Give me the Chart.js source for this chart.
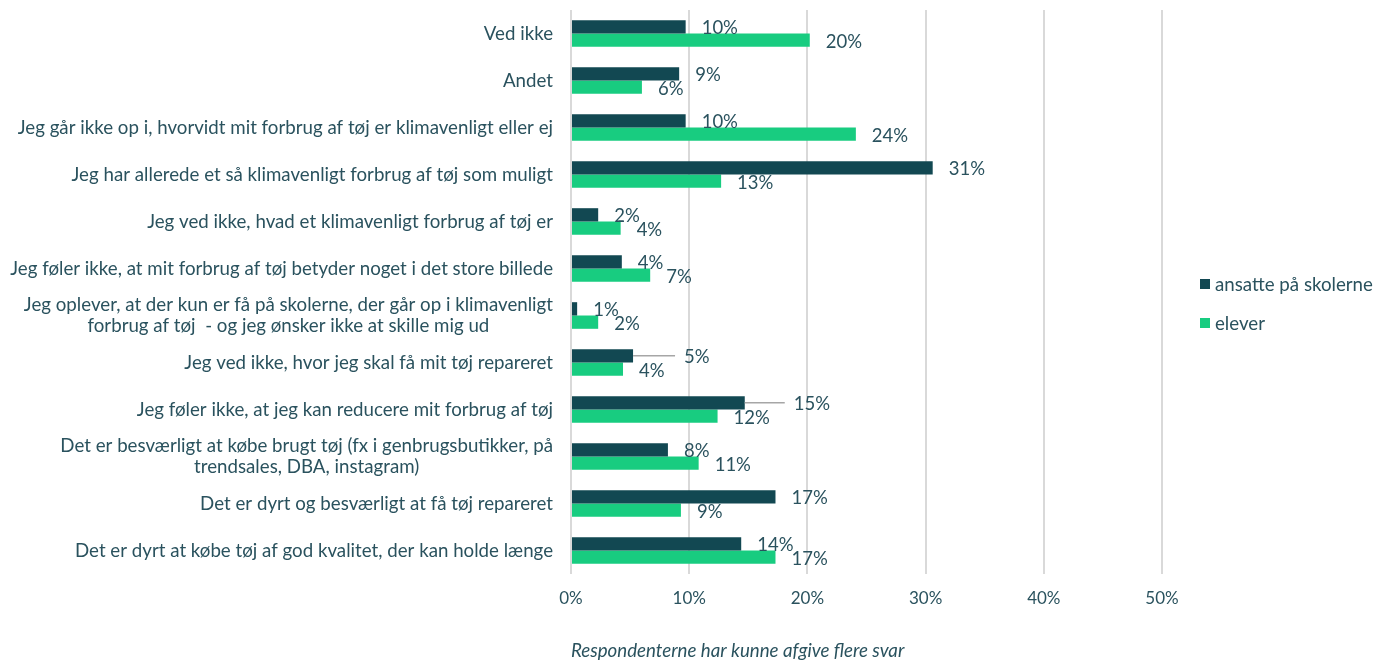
<!DOCTYPE html>
<html lang="da">
<head>
<meta charset="utf-8">
<title>Klimavenligt forbrug af tøj</title>
<script src="https://cdn.jsdelivr.net/npm/chart.js@4.4.1/dist/chart.umd.min.js"></script>
<style>
  html, body { margin: 0; padding: 0; background: #ffffff; }
  #wrap { width: 1375px; height: 660px; position: relative; }
</style>
</head>
<body>
<div id="wrap"><canvas id="chart"></canvas></div>
<script>
// Kategorier (top til bund)
const categories = [
    'Ved ikke',
    'Andet',
    'Jeg går ikke op i, hvorvidt mit forbrug af tøj er klimavenligt eller ej',
    'Jeg har allerede et så klimavenligt forbrug af tøj som muligt',
    'Jeg ved ikke, hvad et klimavenligt forbrug af tøj er',
    'Jeg føler ikke, at mit forbrug af tøj betyder noget i det store billede',
    ['Jeg oplever, at der kun er få på skolerne, der går op i klimavenligt', 'forbrug af tøj  - og jeg ønsker ikke at skille mig ud'],
    'Jeg ved ikke, hvor jeg skal få mit tøj repareret',
    'Jeg føler ikke, at jeg kan reducere mit forbrug af tøj',
    ['Det er besværligt at købe brugt tøj (fx i genbrugsbutikker, på', 'trendsales, DBA, instagram)'],
    'Det er dyrt og besværligt at få tøj repareret',
    'Det er dyrt at købe tøj af god kvalitet, der kan holde længe'
];

const seriesNames = ['ansatte på skolerne', 'elever'];

// Andele i procent
const ansatte = [9.7, 9.15, 9.7, 30.6, 2.3, 4.3, 0.52, 5.25, 14.7, 8.2, 17.3, 14.4];
const elever = [20.2, 6.0, 24.1, 12.7, 4.2, 6.7, 2.3, 4.4, 12.4, 10.8, 9.3, 17.3];

const xTicks = [0, 10, 20, 30, 40, 50];
const axisTitle = 'Respondenterne har kunne afgive flere svar';

const TEXT = '#2a525e';
const DARK = '#124852';
const GREEN = '#18cc80';
const FONT = 'Lato, "Noto Sans", sans-serif';

// Etiketter med streg ud til teksten (serie 0, indeks 7 og 8)
const leaderLines = { '0-7': 42, '0-8': 40 };

const categoryLabels = {
    id: 'categoryLabels',
    afterDraw(chart) {
        const ctx = chart.ctx;
        const yScale = chart.scales.y;
        const lh = 21;
        ctx.save();
        ctx.font = '18.7px ' + FONT;
        ctx.fillStyle = TEXT;
        ctx.textAlign = 'center';
        ctx.textBaseline = 'middle';
        categories.forEach((cat, i) => {
            const lines = Array.isArray(cat) ? cat : [cat];
            const maxW = Math.max(...lines.map(l => ctx.measureText(l).width));
            const cx = yScale.right - 18 - maxW / 2;
            const yc = yScale.getPixelForTick(i);
            lines.forEach((l, j) => {
                ctx.fillText(l, cx, yc + (j - (lines.length - 1) / 2) * lh);
            });
        });
        ctx.restore();
    }
};

const valueLabels = {
    id: 'valueLabels',
    afterDatasetsDraw(chart) {
        const ctx = chart.ctx;
        ctx.save();
        ctx.font = '18.5px ' + FONT;
        ctx.fillStyle = TEXT;
        ctx.textAlign = 'left';
        ctx.textBaseline = 'middle';
        chart.data.datasets.forEach((ds, di) => {
            const meta = chart.getDatasetMeta(di);
            meta.data.forEach((bar, i) => {
                const key = di + '-' + i;
                let x = bar.x + 16;
                const y = bar.y + 1.5;
                if (leaderLines[key]) {
                    ctx.save();
                    ctx.strokeStyle = '#a6a6a6';
                    ctx.lineWidth = 1.5;
                    ctx.beginPath();
                    ctx.moveTo(bar.x, bar.y);
                    ctx.lineTo(bar.x + leaderLines[key], bar.y);
                    ctx.stroke();
                    ctx.restore();
                    x = bar.x + leaderLines[key] + 9;
                }
                ctx.fillText(Math.round(ds.data[i]) + '%', x, y);
            });
        });
        ctx.restore();
    }
};

const sideLegend = {
    id: 'sideLegend',
    afterDraw(chart) {
        const ctx = chart.ctx;
        const area = chart.chartArea;
        const x = area.right + 38;
        const mid = (area.top + area.bottom) / 2;
        const rows = [mid - 8, mid + 31];
        ctx.save();
        ctx.font = '18.7px ' + FONT;
        ctx.textBaseline = 'middle';
        ctx.textAlign = 'left';
        chart.data.datasets.forEach((ds, i) => {
            ctx.fillStyle = ds.backgroundColor;
            ctx.fillRect(x, rows[i] - 5, 10, 10);
            ctx.fillStyle = TEXT;
            ctx.fillText(ds.label, x + 15, rows[i] + 1);
        });
        ctx.restore();
    }
};

const ctx = document.getElementById('chart').getContext('2d');
new Chart(ctx, {
    type: 'bar',
    data: {
        labels: categories,
        datasets: [
            { label: seriesNames[0], data: ansatte, backgroundColor: DARK },
            { label: seriesNames[1], data: elever, backgroundColor: GREEN }
        ]
    },
    options: {
        indexAxis: 'y',
        responsive: true,
        maintainAspectRatio: false,
        animation: false,
        layout: { padding: { top: 10, right: 213, bottom: 0, left: 0 } },
        datasets: {
            bar: { categoryPercentage: 0.566, barPercentage: 1 }
        },
        plugins: {
            legend: { display: false },
            tooltip: { enabled: false }
        },
        scales: {
            x: {
                min: xTicks[0],
                max: xTicks[xTicks.length - 1],
                ticks: {
                    stepSize: xTicks[1] - xTicks[0],
                    callback: v => v + '%',
                    color: TEXT,
                    font: { family: FONT, size: 17 },
                    padding: 14
                },
                grid: { color: '#d9d9d9', lineWidth: 2, drawTicks: false },
                border: { display: false },
                title: {
                    display: true,
                    text: axisTitle,
                    align: 'start',
                    color: TEXT,
                    font: { family: FONT, size: 18.7, style: 'italic', lineHeight: 1 },
                    padding: 0
                },
                afterFit(scale) { scale.height = 86; }
            },
            y: {
                ticks: { display: false },
                grid: { display: false },
                border: { display: false },
                afterFit(scale) { scale.width = 571; }
            }
        }
    },
    plugins: [categoryLabels, valueLabels, sideLegend]
});
</script>
</body>
</html>
